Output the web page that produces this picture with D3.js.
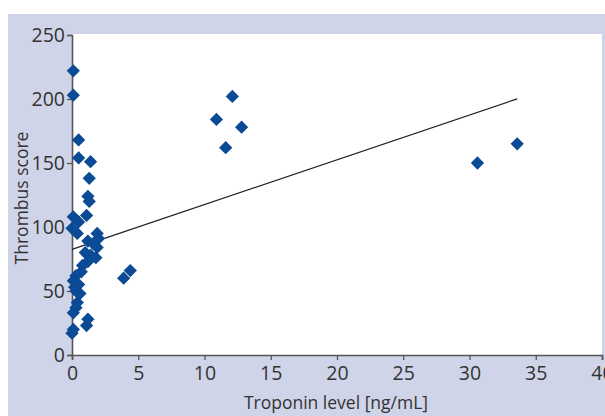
<!DOCTYPE html>
<html>
<head>
<meta charset="utf-8">
<script src="https://cdn.jsdelivr.net/npm/d3@7"></script>
<style>
  body { margin: 0; background: #fff; }
  text { font-family: "Open Sans", "Noto Sans", sans-serif; fill: #333; }
</style>
</head>
<body>
<svg id="chart" width="605" height="416"></svg>
<script>
// troponin (ng/mL) vs thrombus score
var troponin = [0.1, 0.1, 0.5, 0.5, 1.4, 1.3, 1.2, 1.3, 0.1, 1.1, 0.5, 0.0, 0.4, 1.9, 2.0,
  1.2, 1.6, 1.9, 1.0, 1.4, 1.8, 1.2, 0.8, 0.7, 0.3, 0.1, 0.5, 0.2, 0.3, 0.6, 0.4, 0.3,
  0.1, 1.2, 1.1, 0.1, 0.0, 3.9, 4.4, 10.9, 12.1, 11.6, 12.8, 30.6, 33.6]
var thrombus = [222, 203, 168, 154, 151, 138, 124, 120, 108, 109, 104, 99, 95, 95, 91,
  89, 87, 84, 80, 78, 76, 73, 70, 65, 62, 58, 55, 53, 50, 48, 41, 37,
  33, 28, 23, 20, 17, 60, 66, 184, 202, 162, 178, 150, 165]
// fitted line end points
var fitX = [0, 33.6]
var fitY = [82.5, 200.1]
var xTicks = [0, 5, 10, 15, 20, 25, 30, 35, 40]
var yTicks = [0, 50, 100, 150, 200, 250]

var svg = d3.select('#chart')

// panel background
svg.append('rect').attr('x', 8).attr('y', 14).attr('width', 597).attr('height', 402)
  .attr('fill', '#d0d4e8')

var x = d3.scaleLinear().domain([0, 40]).range([72, 602])
var y = d3.scaleLinear().domain([0, 250]).range([355, 35])

svg.append('rect').attr('x', 72).attr('y', 34).attr('width', 530).attr('height', 321)
  .attr('fill', '#fff')

var xAxis = svg.append('g')
  .attr('transform', 'translate(0,355)')
  .call(d3.axisBottom(x).tickValues(xTicks).tickSize(5).tickPadding(6))
var yAxis = svg.append('g')
  .attr('transform', 'translate(72,0)')
  .call(d3.axisLeft(y).tickValues(yTicks).tickSize(5).tickPadding(2))

for (let ax of [xAxis, yAxis]) {
  ax.select('.domain').attr('stroke', '#555').attr('stroke-width', 1.6)
  ax.selectAll('.tick line').attr('stroke', '#555').attr('stroke-width', 1.3)
  ax.selectAll('.tick text').attr('font-size', 19.5).attr('fill', '#333')
    .style('font-family', '"Open Sans", sans-serif')
}
xAxis.selectAll('.tick text').attr('dy', '0.7em')

svg.append('text').attr('x', 336).attr('y', 409).attr('text-anchor', 'middle')
  .attr('font-size', 17.5).text('Troponin level [ng/mL]')
svg.append('text').attr('transform', 'translate(28,198) rotate(-90)')
  .attr('text-anchor', 'middle').attr('font-size', 17.5).text('Thrombus score')

// trend line
svg.append('path')
  .datum(d3.zip(fitX, fitY))
  .attr('d', d3.line().x(d => x(d[0])).y(d => y(d[1])))
  .attr('stroke', '#222').attr('stroke-width', 1.2).attr('fill', 'none')

var diamond = d3.symbol(d3.symbolSquare, 88)
svg.append('g').selectAll('path')
  .data(d3.zip(troponin, thrombus))
  .join('path')
  .attr('d', diamond)
  .attr('transform', d => `translate(${x(d[0])},${y(d[1])}) rotate(45)`)
  .attr('fill', '#0b4b95')
</script>
</body>
</html>
